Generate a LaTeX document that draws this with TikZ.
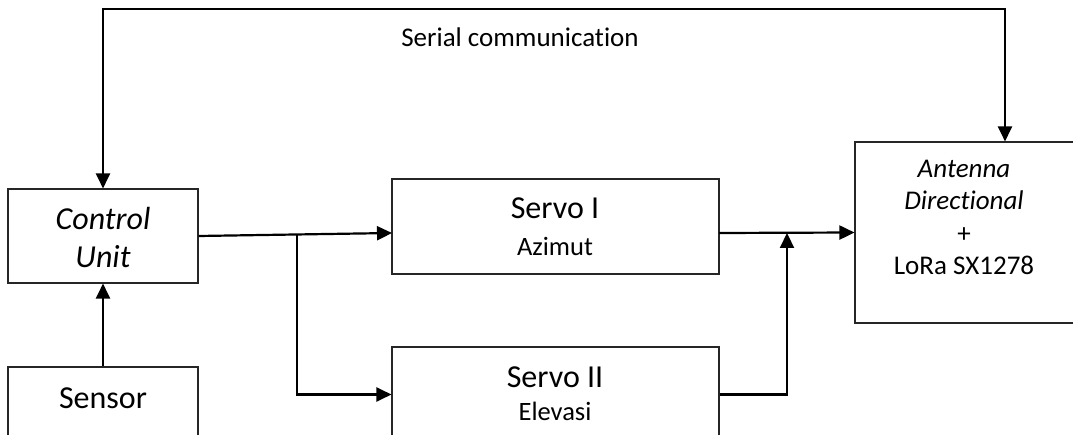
\documentclass[tikz,border=0pt]{standalone}
\usepackage{fontspec}
\setmainfont{Carlito}[Ligatures=NoCommon]
\usetikzlibrary{arrows.meta}
\begin{document}
\begin{tikzpicture}[x=1pt,y=-1pt,
  box/.style={draw=black!85, line width=1.1pt, inner sep=0pt},
  conn/.style={line width=2.2pt, black},
  arr/.style={conn, -{Triangle[length=15pt,width=14pt]}},
  darr/.style={conn, {Triangle[length=15pt,width=14pt]}-{Triangle[length=15pt,width=14pt]}},
  txt/.style={anchor=base, inner sep=0pt},
  big/.style={font=\fontsize{32}{38}\selectfont},
  mid/.style={font=\fontsize{27}{32}\selectfont},
  small/.style={font=\fontsize{26.5}{31}\selectfont}]
\useasboundingbox (0,0) rectangle (1073,435);
\clip (0,0) rectangle (1073,435);
\fill[white] (0,0) rectangle (1073,435);
% boxes
\node[box, minimum width=190pt, minimum height=94pt] (cu) at (103,236) {};
\node[box, minimum width=190pt, minimum height=94pt] (sen) at (103,414) {};
\node[box, minimum width=327pt, minimum height=95pt] (s1) at (555.5,226.5) {};
\node[box, minimum width=327pt, minimum height=95pt] (s2) at (555.5,394.5) {};
\node[box, minimum width=222pt, minimum height=181pt] (ant) at (966,232.5) {};
% texts
\node[txt, big] (t1) at (103,230) {\itshape Control};
\node[txt, big] (t2) at (103,268) {\itshape Unit};
\node[txt, big] (t3) at (103,408) {Sensor};
\node[txt, big] (t4) at (555,219) {Servo I};
\node[txt, small] (t5) at (555,256) {Azimut};
\node[txt, big] (t6) at (555,387) {Servo II};
\node[txt, small] (t7) at (555,420) {Elevasi};
\node[txt, mid] (t8) at (964,178) {\itshape Antenna};
\node[txt, mid] (t9) at (964,210) {\itshape Directional};
\node[txt, mid] (t10) at (964,243) {+};
\node[txt, mid] (t11) at (964,275) {LoRa SX1278};
\node[txt, mid] (t12) at (520,47) {Serial communication};
% coordinates
\coordinate (tl) at (103,9);
\coordinate (tr) at (1005,9);
\coordinate (s1in) at (392,233);
\coordinate (br) at (297,234.5);
\coordinate (brd) at (297,394.5);
\coordinate (s1out) at (719,233);
\coordinate (jn) at (787,233);
\coordinate (jd) at (787,394.5);
% connectors
\draw[darr] (cu.north) -- (tl) -- (tr) -- (tr |- ant.north);
\draw[arr] (cu.east) -- (s1in);
\draw[arr] (br) -- (brd) -- (s2.west);
\draw[arr] (s1out) -- (ant.west);
\draw[arr] (s2.east) -- (jd) -- (jn);
\draw[arr] (sen.north) -- (cu.south);
\end{tikzpicture}
\end{document}
